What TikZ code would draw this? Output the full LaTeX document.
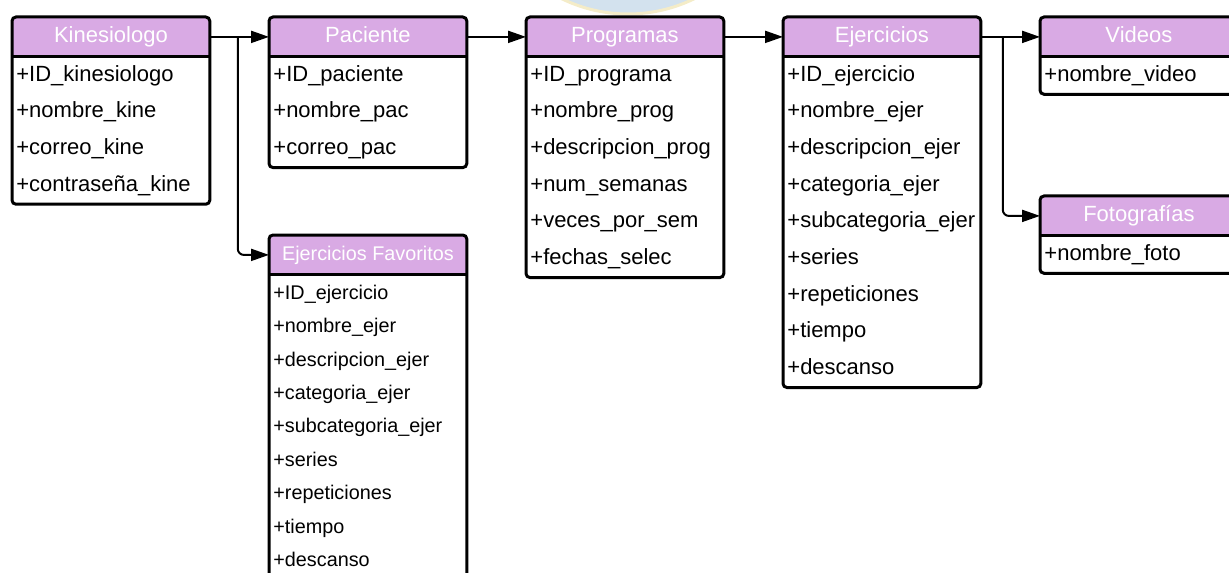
\documentclass[tikz,border=0pt]{standalone}
\usepackage{fontspec}
\setmainfont{Liberation Sans}
\usetikzlibrary{positioning,arrows.meta}

\definecolor{cabecera}{HTML}{D9AAE4}
\definecolor{sello}{HTML}{D3E2EE}
\definecolor{selloborde}{HTML}{F4ECC8}

\tikzset{
  titulo/.style={fill=cabecera, text=white, anchor=north west, inner sep=0pt,
    text height=8pt, text depth=2.5pt,
    minimum width=98.5pt, minimum height=19.5pt, font=\fontsize{11}{13}\selectfont},
  campos/.style={below=0pt of #1, text width=94.5pt, align=left, inner xsep=2pt,
    inner ysep=0pt, font=\fontsize{11}{18.33}\selectfont,
    execute at begin node={\rule{0pt}{12pt}},
    execute at end node={\rule[-6.33pt]{0pt}{0pt}}},
  marco/.style={line width=1.5pt, rounded corners=2pt},
  flecha/.style={line width=1pt, -{Triangle[length=9pt,width=6pt]}}
}

\begin{document}
\begin{tikzpicture}
\useasboundingbox (0,0) rectangle (614.5pt,-286pt);

% sello de fondo
\fill[sello, draw=selloborde, line width=1.5pt] (314pt,68.5pt) circle (75.5pt);

\node[titulo] (kine) at (6pt,-8.5pt) {Kinesiologo};
\node[campos=kine] (kine-c)
  {+ID\_kinesiologo\\+nombre\_kine\\+correo\_kine\\+contraseña\_kine};

\node[titulo] (pac) at (134.5pt,-8.5pt) {Paciente};
\node[campos=pac] (pac-c)
  {+ID\_paciente\\+nombre\_pac\\+correo\_pac};

\node[titulo] (prog) at (263pt,-8.5pt) {Programas};
\node[campos=prog] (prog-c)
  {+ID\_programa\\+nombre\_prog\\+descripcion\_prog\\+num\_semanas\\+veces\_por\_sem\\+fechas\_selec};

\node[titulo] (ejer) at (391.5pt,-8.5pt) {Ejercicios};
\node[campos=ejer] (ejer-c)
  {+ID\_ejercicio\\+nombre\_ejer\\+descripcion\_ejer\\+categoria\_ejer\\+subcategoria\_ejer\\+series\\+repeticiones\\+tiempo\\+descanso};

\node[titulo] (vid) at (520pt,-8.5pt) {Videos};
\node[campos=vid] (vid-c) {+nombre\_video};

\node[titulo] (foto) at (520pt,-98pt) {Fotografías};
\node[campos=foto] (foto-c) {+nombre\_foto};

\node[titulo, font=\fontsize{9.9}{12}\selectfont] (fav) at (134.5pt,-117.5pt) {Ejercicios Favoritos};
\node[campos=fav, font=\fontsize{9.9}{16.7}\selectfont,
  execute at begin node={\rule{0pt}{11pt}},
  execute at end node={\rule[-5.7pt]{0pt}{0pt}}] (fav-c)
  {+ID\_ejercicio\\+nombre\_ejer\\+descripcion\_ejer\\+categoria\_ejer\\+subcategoria\_ejer\\+series\\+repeticiones\\+tiempo\\+descanso};

% marcos de las tablas
\foreach \t in {kine,pac,prog,ejer,vid,foto,fav}{
  \draw[line width=1.5pt] (\t.south west) -- (\t.south east);
  \draw[marco] (\t.north west) rectangle (\t-c.south east);
}

% relaciones
\coordinate[right=14pt of kine.east] (kj);
\coordinate[right=11pt of ejer.east] (ej);

\draw[flecha] (kine) -- (pac);
\draw[flecha, rounded corners=3pt] (kj) |- (fav);
\draw[flecha] (pac) -- (prog);
\draw[flecha] (prog) -- (ejer);
\draw[flecha] (ejer) -- (vid);
\draw[flecha, rounded corners=3pt] (ej) |- (foto);

\end{tikzpicture}
\end{document}
